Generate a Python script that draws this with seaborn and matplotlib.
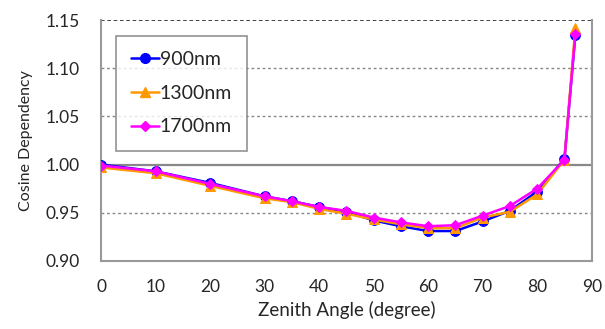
import numpy as np
import pandas as pd
import matplotlib
matplotlib.use("Agg")
import matplotlib.pyplot as plt
import seaborn as sns
from matplotlib.lines import Line2D

angles = [0, 10, 20, 30, 35, 40, 45, 50, 55, 60, 65, 70, 75, 80, 85, 87]
nm900 = [1.000, 0.993, 0.981, 0.967, 0.962, 0.956, 0.951, 0.942, 0.936, 0.931, 0.931, 0.941, 0.952, 0.972, 1.006, 1.134]
nm1300 = [0.997, 0.991, 0.978, 0.965, 0.961, 0.954, 0.949, 0.943, 0.938, 0.934, 0.934, 0.945, 0.951, 0.969, 1.005, 1.142]
nm1700 = [0.999, 0.993, 0.980, 0.967, 0.962, 0.956, 0.952, 0.945, 0.940, 0.936, 0.937, 0.947, 0.957, 0.975, 1.005, 1.136]
series_names = ["900nm", "1300nm", "1700nm"]
x_ticks = [0, 10, 20, 30, 40, 50, 60, 70, 80, 90]
y_ticks = [0.90, 0.95, 1.00, 1.05, 1.10, 1.15]

colors = {"900nm": "#0000FF", "1300nm": "#FF9900", "1700nm": "#FF00FF"}
markers = {"900nm": "o", "1300nm": "^", "1700nm": "D"}
msizes = {"900nm": 7, "1300nm": 7.5, "1700nm": 5.5}

rows = []
for name, vals in zip(series_names, [nm900, nm1300, nm1700]):
    for a, v in zip(angles, vals):
        rows.append({"angle": a, "value": v, "series": name})
df = pd.DataFrame(rows)

sns.set_style("white")
plt.rcParams['font.family'] = ['Lato', 'DejaVu Sans']

fig = plt.figure(figsize=(6.05, 3.29), dpi=100)
ax = fig.add_axes([0.167, 0.207, 0.811, 0.732])

for name in series_names:
    sub = df[df["series"] == name]
    sns.lineplot(data=sub, x="angle", y="value", ax=ax, color=colors[name],
                 marker=markers[name], markersize=msizes[name],
                 markeredgecolor=colors[name], linewidth=1.8, legend=False,
                 zorder=3)

ax.set_xlim(0, 90)
ax.set_ylim(0.90, 1.15)
ax.set_xticks(x_ticks)
ax.set_yticks(y_ticks)
ax.set_yticklabels([f"{t:.2f}" for t in y_ticks])
ax.tick_params(axis='x', direction='in', length=5, color='#888888', labelsize=12.5, pad=13)
ax.tick_params(axis='y', length=0, labelsize=12.5, pad=15)

for yv in [0.95, 1.05, 1.10]:
    ax.axhline(yv, color='#888888', linestyle=(0, (2, 2)), linewidth=1.0, zorder=1)
ax.axhline(1.15, color='#333333', linestyle=(0, (2, 1.5)), linewidth=1.3, zorder=1)
ax.axhline(1.00, color='#888888', linestyle='-', linewidth=1.6, zorder=1)

for side in ['left', 'bottom', 'right']:
    ax.spines[side].set_color('#999999')
    ax.spines[side].set_linewidth(1.5)
ax.spines['top'].set_visible(False)

ax.set_xlabel("Zenith Angle (degree)", fontsize=13.5, labelpad=4)
ax.set_ylabel("Cosine Dependency", fontsize=11.5, labelpad=9)

handles = [Line2D([0], [0], color=colors[n], marker=markers[n], markersize=msizes[n],
                  linewidth=1.8) for n in series_names]
leg = ax.legend(handles, series_names, loc='upper left', bbox_to_anchor=(0.03, 0.935),
                fontsize=14, frameon=True, fancybox=False, handlelength=1.4,
                handletextpad=0.05, labelspacing=0.85, borderpad=0.8, borderaxespad=0)
leg.get_frame().set_edgecolor('#777777')
leg.get_frame().set_linewidth(1.2)

fig.savefig("out.png", dpi=100)
